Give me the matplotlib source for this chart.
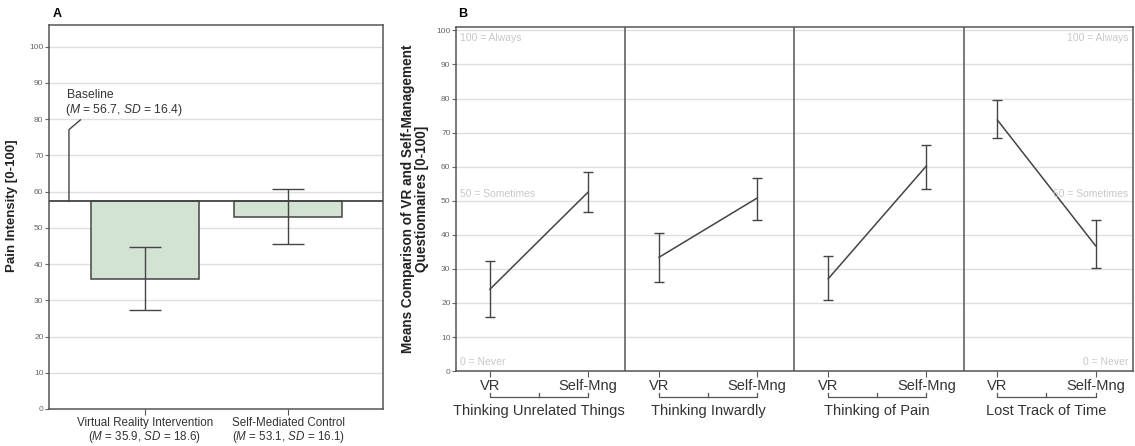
import numpy as np
import matplotlib.pyplot as plt
import matplotlib.transforms as mtransforms

plt.rcParams['font.family'] = ['Liberation Sans', 'DejaVu Sans']
plt.rcParams['mathtext.fontset'] = 'custom'
plt.rcParams['mathtext.rm'] = 'Liberation Sans'
plt.rcParams['mathtext.it'] = 'Liberation Sans:italic'

# Panel A data
conditions = ['Virtual Reality Intervention', 'Self-Mediated Control']
cond_stats = ['($\\it{M}$ = 35.9, $\\it{SD}$ = 18.6)', '($\\it{M}$ = 53.1, $\\it{SD}$ = 16.1)']
pain_means = [35.9, 53.1]
pain_err_low = [27.3, 45.6]
pain_err_high = [44.8, 60.6]
baseline = 57.4

# Panel B data
groups = ['Thinking Unrelated Things', 'Thinking Inwardly', 'Thinking of Pain', 'Lost Track of Time']
conds_b = ['VR', 'Self-Mng']
vr_means = [24.0, 33.4, 27.1, 73.7]
vr_low = [16.0, 26.1, 20.8, 68.3]
vr_high = [32.3, 40.5, 33.9, 79.5]
sm_means = [52.5, 50.8, 60.2, 36.8]
sm_low = [46.7, 44.4, 53.4, 30.3]
sm_high = [58.3, 56.8, 66.4, 44.2]

frame_c = '#555555'
grid_c = '#dedede'
tick_c = '#666666'
faint_c = '#c8c8c8'
text_c = '#333333'

fig = plt.figure(figsize=(11.35, 4.46), dpi=100)

# ---------------- Panel A ----------------
axA = fig.add_axes([0.0432, 0.083, 0.2942, 0.861])
x = np.arange(len(conditions))
axA.bar(x, np.array(pain_means) - baseline, bottom=baseline, width=0.75,
        color='#d2e3d3', edgecolor='#444444', linewidth=1.1, zorder=2)
yerr = [np.array(pain_means) - np.array(pain_err_low), np.array(pain_err_high) - np.array(pain_means)]
axA.errorbar(x, pain_means, yerr=yerr, fmt='none', ecolor='#444444',
             elinewidth=1.0, capsize=11.5, capthick=1.0, zorder=3)
axA.axhline(baseline, color='#444444', lw=1.3, zorder=4)
axA.plot([-0.53, -0.53, -0.45], [baseline, 77.1, 79.8], color='#444444', lw=1.0, zorder=4)
axA.text(-0.545, 86.7, 'Baseline', fontsize=8.7, color=text_c, va='center')
axA.text(-0.56, 82.4, '($\\it{M}$ = 56.7, $\\it{SD}$ = 16.4)', fontsize=8.7,
         color=text_c, va='center')
axA.set_xlim(-0.669, 1.661)
axA.set_ylim(0, 106)
axA.set_yticks(np.arange(0, 101, 10))
axA.yaxis.grid(True, color=grid_c, lw=1.0, zorder=0)
axA.set_axisbelow(True)
axA.set_xticks(x)
axA.set_xticklabels([c + '\n' + s for c, s in zip(conditions, cond_stats)],
                    fontsize=8.4, color=text_c, linespacing=1.0)
axA.tick_params(axis='y', labelsize=6, colors=tick_c, length=3, pad=1)
axA.tick_params(axis='x', length=4, color=frame_c, pad=2)
for s in axA.spines.values():
    s.set_color(frame_c)
    s.set_linewidth(1.1)
axA.set_ylabel('Pain Intensity [0-100]', fontsize=9.5, fontweight='bold',
               color='#222222')
axA.yaxis.set_label_coords(-0.092, 0.53)
fig.text(0.046, 0.968, 'A', fontsize=9, fontweight='bold', va='center')

# ---------------- Panel B ----------------
axB = fig.add_axes([0.4018, 0.168, 0.5962, 0.7715])
pos_vr = np.arange(len(groups)) + 0.2
pos_sm = np.arange(len(groups)) + 0.78
for i in range(len(groups)):
    xs = [pos_vr[i], pos_sm[i]]
    ms = [vr_means[i], sm_means[i]]
    lo = [vr_means[i] - vr_low[i], sm_means[i] - sm_low[i]]
    hi = [vr_high[i] - vr_means[i], sm_high[i] - sm_means[i]]
    axB.plot(xs, ms, color='#444444', lw=1.1, zorder=3)
    axB.errorbar(xs, ms, yerr=[lo, hi], fmt='none', ecolor='#444444',
                 elinewidth=1.0, capsize=3.8, capthick=1.0, zorder=3)
for d in range(1, len(groups)):
    axB.axvline(d, color=frame_c, lw=1.1, zorder=4)
axB.set_xlim(0, len(groups))
axB.set_ylim(0, 101)
axB.set_yticks(np.arange(0, 101, 10))
axB.yaxis.grid(True, color=grid_c, lw=1.0, zorder=0)
axB.set_axisbelow(True)
ticks = np.sort(np.concatenate([pos_vr, pos_sm]))
axB.set_xticks(ticks)
axB.set_xticklabels(conds_b * len(groups), fontsize=10.5, color=text_c)
axB.tick_params(axis='y', labelsize=6, colors=tick_c, length=3, pad=1)
axB.tick_params(axis='x', length=4, color=frame_c, pad=1.5)
for s in axB.spines.values():
    s.set_color(frame_c)
    s.set_linewidth(1.1)

# group brackets under the tick labels
trans = mtransforms.blended_transform_factory(axB.transData, axB.transAxes)
for i, g in enumerate(groups):
    a, b = pos_vr[i], pos_sm[i]
    yb = -0.075
    axB.plot([a, a, b, b], [yb + 0.01, yb, yb, yb + 0.01], color='#555555', lw=0.9,
             transform=trans, clip_on=False)
    axB.plot([(a + b) / 2] * 2, [yb, yb + 0.01], color='#555555', lw=0.9,
             transform=trans, clip_on=False)
    axB.text((a + b) / 2, yb - 0.04, g, fontsize=10.5, color=text_c,
             transform=trans, ha='center', va='center')

# scale anchor labels
axB.text(0.025, 97.7, '100 = Always', fontsize=7.5, color=faint_c, va='center')
axB.text(0.025, 52, '50 = Sometimes', fontsize=7.5, color=faint_c, va='center')
axB.text(0.025, 2.6, '0 = Never', fontsize=7.5, color=faint_c, va='center')
axB.text(3.975, 97.7, '100 = Always', fontsize=7.5, color=faint_c, va='center', ha='right')
axB.text(3.975, 52, '50 = Sometimes', fontsize=7.5, color=faint_c, va='center', ha='right')
axB.text(3.975, 2.6, '0 = Never', fontsize=7.5, color=faint_c, va='center', ha='right')

axB.set_ylabel('Means Comparison of VR and Self-Management\nQuestionnaires [0-100]',
               fontsize=9.8, fontweight='bold', linespacing=1.0,
               color='#222222')
axB.yaxis.set_label_coords(-0.04, 0.5)
fig.text(0.4035, 0.968, 'B', fontsize=9, fontweight='bold', va='center')

fig.savefig('out.png', dpi=100)
